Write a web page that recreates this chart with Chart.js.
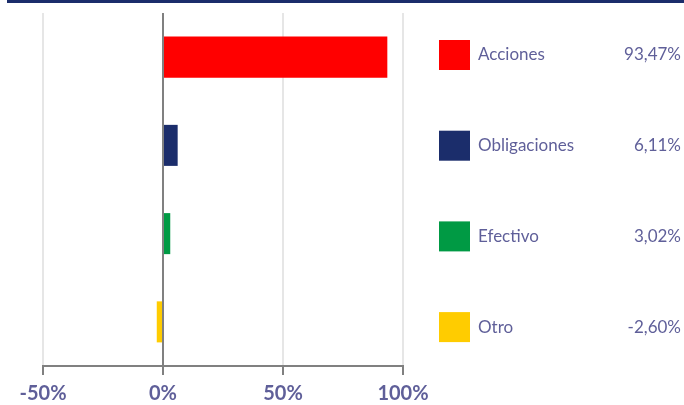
<!DOCTYPE html>
<html>
<head>
<meta charset="utf-8">
<script src="https://cdn.jsdelivr.net/npm/chart.js@4"></script>
<style>
  html, body { margin: 0; padding: 0; background: #fff; }
  #wrap { position: relative; width: 684px; height: 405px; }
  #topbar { position: absolute; left: 7px; right: 0; top: 0; height: 3px; background: #1b2d6b; }
</style>
</head>
<body>
<div id="wrap">
  <div id="topbar"></div>
  <canvas id="chart" width="684" height="405"></canvas>
</div>
<script>
const categories = ['Acciones', 'Obligaciones', 'Efectivo', 'Otro']
const weights = [93.47, 6.11, 3.02, -2.60]
const valueLabels = ['93,47%', '6,11%', '3,02%', '-2,60%']
const tickValues = [-50, 0, 50, 100]

const red = '#ff0000'
const navy = '#1b2d6b'
const green = '#009a44'
const yellow = '#ffcc00'
const barColors = [red, navy, green, yellow]
const textColor = '#5f5f99'

const ctx = document.getElementById('chart');

// legend on the right, drawn by hand
const sideLegend = {
    id: 'sideLegend',
    afterDraw(chart) {
        const c = chart.ctx;
        c.save();
        c.textBaseline = 'middle';
        c.font = '17px Lato';
        categories.forEach((name, i) => {
            const y = 55 + i * 90.7;
            c.fillStyle = barColors[i];
            c.fillRect(439, y - 15, 31, 30);
            c.fillStyle = textColor;
            c.textAlign = 'left';
            c.fillText(name, 478, y);
            c.textAlign = 'right';
            c.fillText(valueLabels[i], 681, y);
        });
        c.restore();
    }
};

const mychart = new Chart(ctx, {
    type: 'bar',
    data: {
        labels: categories,
        datasets: [{
            data: weights,
            backgroundColor: barColors,
            borderWidth: 0,
            barPercentage: 0.465,
            categoryPercentage: 1
        }]
    },
    options: {
        indexAxis: 'y',
        responsive: false,
        animation: false,
        layout: { padding: { left: 43, right: 281, top: 13, bottom: 0 } },
        plugins: { legend: { display: false }, tooltip: { enabled: false } },
        scales: {
            x: {
                min: -50,
                max: 100,
                afterBuildTicks(axis) {
                    axis.ticks = tickValues.map(v => ({ value: v }));
                },
                afterFit(axis) {
                    axis.height = 39;
                },
                grid: {
                    color: (c) => c.tick && c.tick.value === 0 ? '#808080' : '#e6e6e6',
                    lineWidth: 2,
                    tickColor: '#808080',
                    tickLength: 9
                },
                border: { color: '#808080', width: 2 },
                ticks: {
                    color: textColor,
                    padding: 7,
                    font: { family: 'Lato', size: 20, weight: 'bold' },
                    callback: (v) => v + '%'
                }
            },
            y: {
                display: false
            }
        }
    },
    plugins: [sideLegend]
});
</script>
</body>
</html>
